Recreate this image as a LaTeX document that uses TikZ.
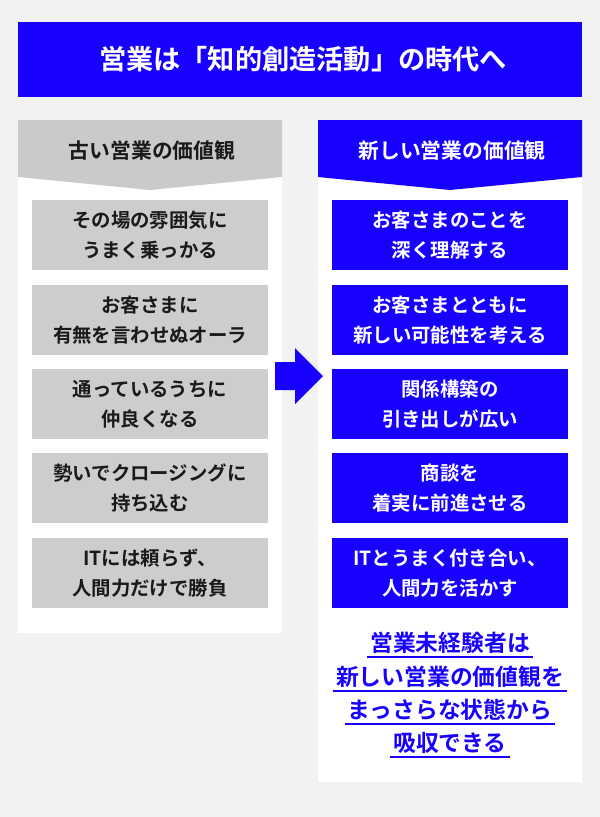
\documentclass[tikz,border=0pt]{standalone}
\usepackage{fontspec}
\setmainfont{Noto Sans CJK JP}[BoldFont={Noto Sans CJK JP Bold}]
\definecolor{bg}{HTML}{F2F2F2}
\definecolor{vblue}{RGB}{24,0,255}
\definecolor{hgray}{HTML}{C9CAC9}
\definecolor{bgray}{HTML}{CCCDCC}
\definecolor{ink}{HTML}{1A1A1A}
\tikzset{
  itembox/.style={minimum width=236pt, minimum height=70pt, inner sep=0pt, align=center,
    font=\bfseries\fontsize{19.4}{30}\selectfont},
  oldbox/.style={itembox, fill=bgray, text=ink},
  newbox/.style={itembox, fill=vblue, text=white},
  headtxt/.style={inner sep=0pt, font=\bfseries\fontsize{20.8}{24}\selectfont},
  concl/.style={inner sep=0pt, text=vblue, font=\bfseries\fontsize{22.8}{26}\selectfont},
  uline/.style={draw=vblue, line width=1.6pt}
}
\begin{document}
\begin{tikzpicture}[x=1pt,y=-1pt]
\useasboundingbox (0,0) rectangle (600,817);
\fill[bg] (0,0) rectangle (600,817);
% title
\fill[vblue] (18,22) rectangle (582,97);
\node[text=white, inner sep=0pt, font=\bfseries\fontsize{27.2}{30}\selectfont] (title) at (303,59.5) {営業は「知的創造活動」の時代へ};
% panels
\fill[white] (18,120) rectangle (282,633);
\fill[white] (318,120) rectangle (582,782);
\fill[hgray] (18,120) -- (282,120) -- (282,177) -- (150,190) -- (18,177) -- cycle;
\fill[vblue] (318,120) -- (582,120) -- (582,177) -- (450,190) -- (318,177) -- cycle;
\node[headtxt, text=ink] (oldhead) at (152,151) {古い営業の価値観};
\node[headtxt, text=white] (newhead) at (452,151) {新しい営業の価値観};
% old items
\node[oldbox] (o1) at (150,235) {その場の雰囲気に\\うまく乗っかる};
\node[oldbox] (o2) at (150,320) {お客さまに\\有無を言わせぬオーラ};
\node[oldbox] (o3) at (150,404) {通っているうちに\\仲良くなる};
\node[oldbox] (o4) at (150,488) {勢いでクロージングに\\持ち込む};
\node[oldbox] (o5) at (150,573) {ITには頼らず、\\人間力だけで勝負};
% new items
\node[newbox] (n1) at (450,235) {お客さまのことを\\深く理解する};
\node[newbox] (n2) at (450,320) {お客さまとともに\\新しい可能性を考える};
\node[newbox] (n3) at (450,404) {関係構築の\\引き出しが広い};
\node[newbox] (n4) at (450,488) {商談を\\着実に前進させる};
\node[newbox] (n5) at (450,573) {ITとうまく付き合い、\\人間力を活かす};
% arrow
\fill[vblue] (275,362) -- (295,362) -- (295,348) -- (323,376) -- (295,404) -- (295,390) -- (275,390) -- cycle;
% conclusion
\node[concl] (c1) at (450,643) {営業未経験者は};
\node[concl] (c2) at (450,677) {新しい営業の価値観を};
\node[concl] (c3) at (450,710) {まっさらな状態から};
\node[concl] (c4) at (450,743) {吸収できる};
\foreach \c in {c1,c2,c3,c4}{
  \draw[uline] ([xshift=-3pt,yshift=-14pt]\c.west) -- ([xshift=3pt,yshift=-14pt]\c.east);
}
\end{tikzpicture}
\end{document}
